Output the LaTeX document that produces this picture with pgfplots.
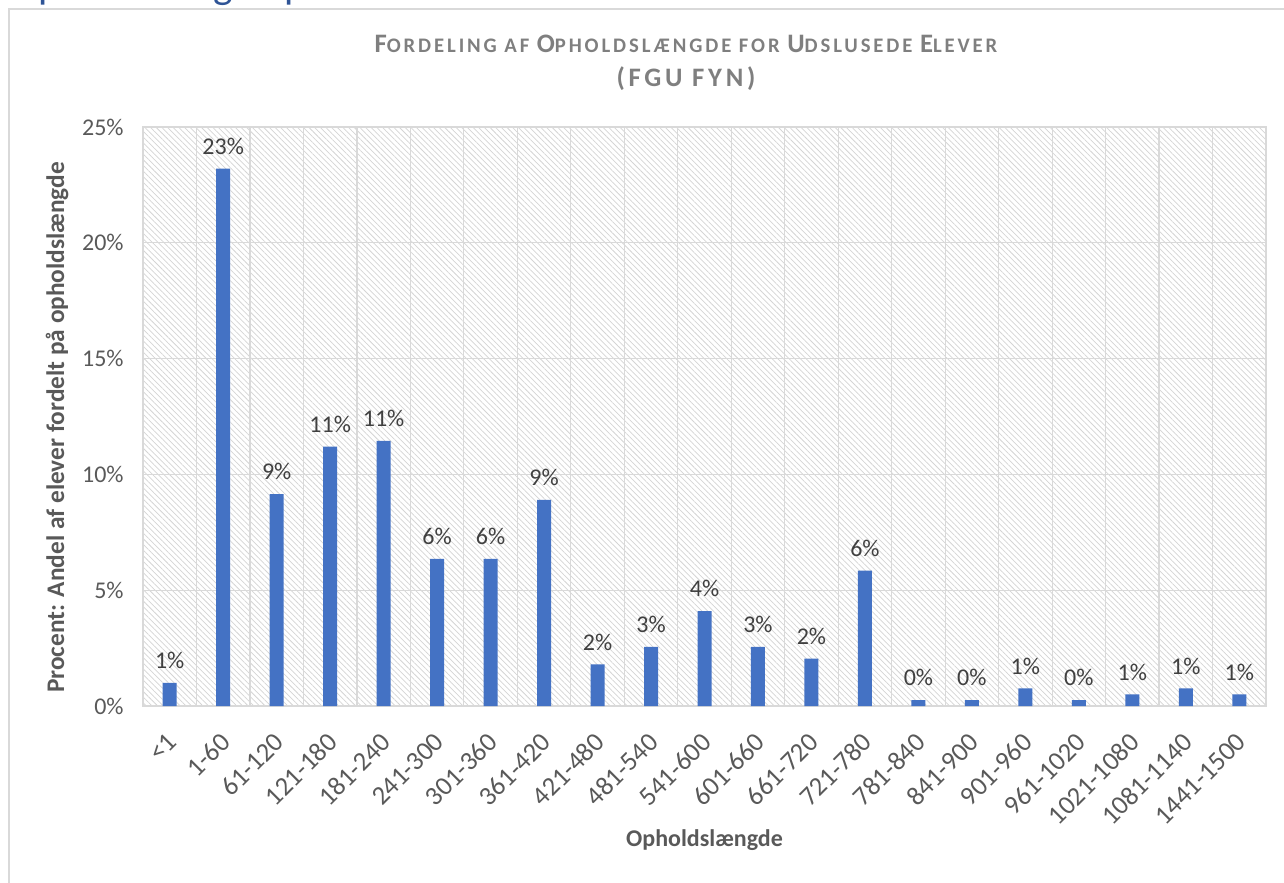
\documentclass[border=0pt]{standalone}
\usepackage{fontspec}
\setmainfont{Carlito}
\usepackage{pgfplots}
\usepackage{pgfplotstable}
\pgfplotsset{compat=1.18}
\usetikzlibrary{patterns.meta}
\definecolor{barblue}{HTML}{4472C4}
\definecolor{gridgrey}{HTML}{D9D9D9}
\definecolor{txtgrey}{HTML}{595959}
\definecolor{lblgrey}{HTML}{404040}
\definecolor{titlegrey}{HTML}{7F7F7F}
\definecolor{hatchgrey}{HTML}{D4D4D4}
\definecolor{headblue}{HTML}{2F5496}

\pgfplotstableread{
x y lab
0 1.0 1
1 23.2 23
2 9.15 9
3 11.2 11
4 11.45 11
5 6.35 6
6 6.35 6
7 8.9 9
8 1.8 2
9 2.55 3
10 4.1 4
11 2.55 3
12 2.05 2
13 5.85 6
14 0.25 0
15 0.25 0
16 0.76 1
17 0.25 0
18 0.5 1
19 0.76 1
20 0.5 1
}\datatable

\newcommand{\BigC}[1]{{\fontsize{20}{24}\selectfont #1}}
\newcommand{\SmC}[1]{{\fontsize{15.5}{24}\selectfont #1}}

\begin{document}
\begin{tikzpicture}
% outer chart border
\draw[gridgrey, line width=0.9pt] (6.75pt,-30pt) rectangle (1010pt,654.75pt);
% clipped heading from the page above
\begin{scope}
\clip (0pt,652pt) rectangle (963pt,661.5pt);
\node[anchor=base west, inner sep=0pt, text=headblue, font=\fontsize{31}{34}\selectfont] at (8pt,662.5pt) {Opholdslængde på FGU};
\end{scope}
\begin{axis}[
  at={(107.25pt,132pt)}, anchor=south west,
  scale only axis, width=842.25pt, height=434.25pt,
  xmin=-0.5, xmax=20.5, ymin=0, ymax=25,
  ybar, bar width=10.5pt,
  ytick={0,5,...,25},
  yticklabel={\pgfmathprintnumber{\tick}\%},
  xtick={0,...,20},
  xticklabels={{<1},{1-60},{61-120},{121-180},{181-240},{241-300},{301-360},{361-420},{421-480},{481-540},{541-600},{601-660},{661-720},{721-780},{781-840},{841-900},{901-960},{961-1020},{1021-1080},{1081-1140},{1441-1500}},
  minor xtick={-0.5,0.5,...,20.5},
  xminorgrids=true, ymajorgrids=true, xmajorgrids=false,
  grid style={gridgrey, line width=0.9pt},
  minor grid style={gridgrey, line width=0.9pt},
  major tick length=0pt, minor tick length=0pt,
  axis line style={gridgrey, line width=0.9pt},
  axis background/.style={pattern={Lines[angle=-45,distance=3pt,line width=0.55pt]}, pattern color=hatchgrey},
  /pgf/number format/assume math mode=true,
  yticklabel style={font=\fontsize{18}{21}\selectfont, text=txtgrey, anchor=east, xshift=-11pt},
  xticklabel style={font=\fontsize{20}{23}\selectfont, text=txtgrey, rotate=45, anchor=east, inner sep=0pt, yshift=-18pt, xshift=-15.5pt},
  point meta=explicit symbolic,
  nodes near coords={\pgfplotspointmeta\%},
  nodes near coords style={font=\fontsize{18}{21}\selectfont, text=lblgrey, anchor=south, yshift=7pt},
  xlabel={Opholdslængde},
  xlabel style={font=\bfseries\fontsize{18}{21}\selectfont, text=txtgrey, at={(axis description cs:0.5,-0.2314)}, anchor=center},
  ylabel={Procent: Andel af elever fordelt på opholdslængde},
  ylabel style={font=\bfseries\fontsize{19}{22}\selectfont, text=txtgrey, at={(axis description cs:-0.0766,0.481)}, anchor=center, rotate=0},
  title={\BigC{F}\SmC{ORDELING AF} \BigC{O}\SmC{PHOLDSLÆNGDE FOR} \BigC{U}\SmC{DSLUSEDE} \BigC{E}\SmC{LEVER}\\[1pt]\BigC{(FGU FYN)}},
  title style={font=\bfseries\fontsize{15.5}{24}\selectfont\addfontfeature{LetterSpace=14}, text=titlegrey, align=center, at={(axis description cs:0.4835,1.097)}, anchor=center},
]
\addplot[fill=barblue, draw=none] table[x=x, y=y, meta=lab] {\datatable};
\end{axis}
\pgfresetboundingbox
\useasboundingbox (0,0) rectangle (963pt,661.5pt);
\end{tikzpicture}
\end{document}
